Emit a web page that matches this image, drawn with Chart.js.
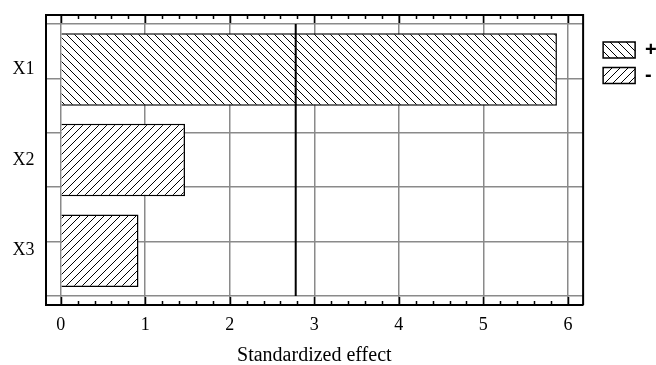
<!DOCTYPE html>
<html>
<head>
<meta charset="utf-8">
<script src="https://cdn.jsdelivr.net/npm/chart.js@4"></script>
<style>
  html, body { margin: 0; padding: 0; background: #fff; }
  #wrap { width: 656px; height: 365px; }
</style>
</head>
<body>
<div id="wrap"><canvas id="chart-effect"></canvas></div>
<script>
// Data
const categories   = ['X1', 'X2', 'X3'];
const effects      = [5.87, 1.47, 0.92];
const signs        = ['+', '-', '-'];
const xTicks       = [0, 1, 2, 3, 4, 5, 6];
const yGridTicks   = [-0.5, 0.1, 0.7, 1.3, 1.9, 2.5];
const criticalLine = 2.78;

// hatch patterns on white, 8px tiles
function hatch(backslash) {
    const c = document.createElement('canvas');
    c.width = 8; c.height = 8;
    const g = c.getContext('2d');
    g.fillStyle = '#fff';
    g.fillRect(0, 0, 8, 8);
    g.strokeStyle = '#000';
    g.lineWidth = 1;
    g.beginPath();
    if (backslash) {
        g.moveTo(-1, -1); g.lineTo(9, 9);
        g.moveTo(7, -1);  g.lineTo(9, 1);
        g.moveTo(-1, 7);  g.lineTo(1, 9);
    } else {
        g.moveTo(-1, 9);  g.lineTo(9, -1);
        g.moveTo(-1, 1);  g.lineTo(1, -1);
        g.moveTo(7, 9);   g.lineTo(9, 7);
    }
    g.stroke();
    return g.createPattern(c, 'repeat');
}

function pointsFor(sign) {
    const out = [];
    categories.forEach((c, i) => {
        if (signs[i] === sign) out.push({ x: effects[i], y: i });
    });
    return out;
}

// frame, minor ticks and the critical value line
const extras = {
    id: 'extras',
    afterDraw(chart) {
        const { ctx, chartArea: a, scales } = chart;
        const x = scales.x, yg = scales.yg;
        ctx.save();
        ctx.strokeStyle = '#000';

        // tick marks top and bottom, pointing inwards
        ctx.lineWidth = 1.5;
        ctx.beginPath();
        for (let k = 0; k <= 30; k++) {
            const v = k / 5;
            const px = Math.round(x.getPixelForValue(v)) + 0.5;
            const len = (k % 5 === 0) ? 8 : 4;
            ctx.moveTo(px, a.bottom); ctx.lineTo(px, a.bottom - len);
            ctx.moveTo(px, a.top);    ctx.lineTo(px, a.top + len);
        }
        ctx.stroke();

        // top and right frame
        ctx.lineWidth = 2;
        ctx.beginPath();
        ctx.moveTo(a.left, a.top); ctx.lineTo(a.right, a.top); ctx.lineTo(a.right, a.bottom);
        ctx.stroke();

        // critical t value
        const cx = x.getPixelForValue(criticalLine);
        ctx.beginPath();
        ctx.moveTo(cx, yg.getPixelForValue(yGridTicks[0]));
        ctx.lineTo(cx, yg.getPixelForValue(yGridTicks[yGridTicks.length - 1]));
        ctx.stroke();
        ctx.restore();
    }
};

const serif = 'Liberation Serif, Times New Roman, serif';

new Chart(document.getElementById('chart-effect'), {
    type: 'bar',
    data: {
        datasets: [
            {
                label: '+',
                data: pointsFor('+'),
                backgroundColor: hatch(true),
                borderColor: '#000',
                borderWidth: 1.5,
                grouped: false,
                barPercentage: 0.8,
                categoryPercentage: 1
            },
            {
                label: '-',
                data: pointsFor('-'),
                backgroundColor: hatch(false),
                borderColor: '#000',
                borderWidth: 1.5,
                grouped: false,
                barPercentage: 0.8,
                categoryPercentage: 1
            }
        ]
    },
    options: {
        indexAxis: 'y',
        responsive: true,
        maintainAspectRatio: false,
        animation: false,
        layout: { padding: { left: 12.5, top: 15, right: -10.8, bottom: 0 } },
        plugins: {
            tooltip: { enabled: false },
            legend: {
                position: 'right',
                align: 'start',
                title: { display: true, text: ' ', font: { size: 2 }, padding: { top: 8.7, bottom: 8.7 } },
                labels: {
                    boxWidth: 32,
                    boxHeight: 16,
                    padding: 5.3,
                    color: '#000',
                    font: { family: 'Liberation Sans, Arial, sans-serif', size: 20, weight: 'bold' }
                }
            }
        },
        scales: {
            x: {
                type: 'linear',
                min: -0.18,
                max: 6.18,
                afterBuildTicks: s => { s.ticks = xTicks.map(v => ({ value: v })); },
                afterFit: s => { s.height = 60; s.paddingLeft = 0; s.paddingRight = 0; },
                grid: { color: '#8a8a8a', lineWidth: 1.5, drawTicks: false },
                border: { color: '#000', width: 2 },
                ticks: { color: '#000', padding: 9, font: { family: serif, size: 18 } },
                title: {
                    display: true,
                    text: 'Standardized effect',
                    color: '#000',
                    font: { family: serif, size: 20 },
                    padding: { top: 4, bottom: -3 }
                }
            },
            y: {
                type: 'linear',
                position: 'left',
                reverse: true,
                offset: false,
                min: -0.6,
                max: 2.6,
                afterBuildTicks: s => { s.ticks = categories.map((c, i) => ({ value: i })); },
                afterFit: s => { s.width = 33; s.paddingTop = 0; s.paddingBottom = 0; },
                grid: { display: false, drawTicks: false, offset: false },
                border: { color: '#000', width: 2 },
                ticks: {
                    color: '#000',
                    padding: 11,
                    font: { family: serif, size: 18 },
                    callback: v => categories[v]
                }
            },
            yg: {
                type: 'linear',
                position: 'right',
                reverse: true,
                offset: false,
                min: -0.6,
                max: 2.6,
                afterBuildTicks: s => { s.ticks = yGridTicks.map(v => ({ value: v })); },
                afterFit: s => { s.width = 14.7; s.paddingTop = 0; s.paddingBottom = 0; },
                grid: { color: '#8a8a8a', lineWidth: 1.5, drawTicks: false, offset: false },
                border: { display: false },
                ticks: { display: false }
            }
        }
    },
    plugins: [extras]
});
</script>
</body>
</html>
